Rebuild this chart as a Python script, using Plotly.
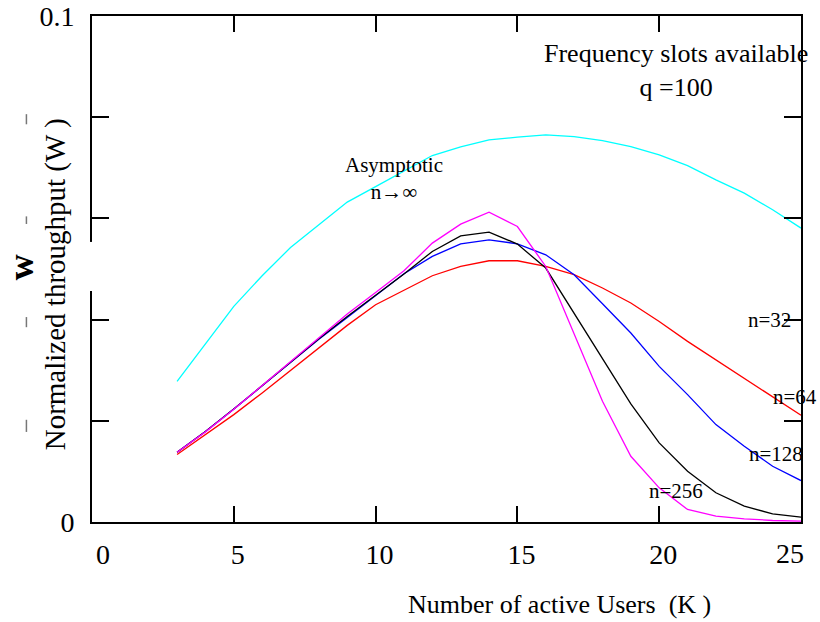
import plotly.graph_objects as go

K = list(range(3, 26))

w_asymptotic = [0.02780, 0.03524, 0.04261, 0.04867, 0.05425, 0.05874, 0.06322, 0.06628,
                0.06934, 0.07242, 0.07414, 0.07552, 0.07605, 0.07651, 0.07617, 0.07538,
                0.07420, 0.07256, 0.07044, 0.06762, 0.06500, 0.06170, 0.05808]
w_n32 = [0.01333, 0.01728, 0.02122, 0.02551, 0.02991, 0.03445, 0.03886, 0.04294,
         0.04576, 0.04867, 0.05050, 0.05163, 0.05163, 0.05050, 0.04887, 0.04624,
         0.04328, 0.03964, 0.03570, 0.03208, 0.02847, 0.02484, 0.02109]
w_n64 = [0.01378, 0.01787, 0.02231, 0.02695, 0.03159, 0.03613, 0.04043, 0.04466,
         0.04906, 0.05248, 0.05498, 0.05577, 0.05498, 0.05281, 0.04887, 0.04314,
         0.03735, 0.03076, 0.02517, 0.01925, 0.01497, 0.01102, 0.00819]
w_n128 = [0.01378, 0.01787, 0.02231, 0.02695, 0.03159, 0.03623, 0.04063, 0.04478,
          0.04900, 0.05347, 0.05656, 0.05730, 0.05493, 0.05019, 0.04130, 0.03242,
          0.02334, 0.01564, 0.01003, 0.00577, 0.00312, 0.00162, 0.00095]
w_n256 = [0.01378, 0.01781, 0.02227, 0.02701, 0.03169, 0.03643, 0.04111, 0.04537,
          0.04965, 0.05512, 0.05887, 0.06124, 0.05840, 0.05050, 0.03702, 0.02385,
          0.01299, 0.00675, 0.00247, 0.00115, 0.00063, 0.00030, 0.00016]

x_ticks = [0, 5, 10, 15, 20, 25]
x_ticktext = ["\u20070", "5", "10", "15", "20", ""]
x_last_label = "25"
y_ticks = [0, 0.02, 0.04, 0.06, 0.08, 0.1]
y_ticktext = ["0", "", "", "", "", "0.1"]

FONT = "Liberation Serif, Times New Roman, serif"

fig = go.Figure()
series = [
    ("Asymptotic", w_asymptotic, "#00FFFF"),
    ("n=32", w_n32, "#FF0000"),
    ("n=64", w_n64, "#0000FF"),
    ("n=128", w_n128, "#000000"),
    ("n=256", w_n256, "#FF00FF"),
]
for name, ys, col in series:
    fig.add_trace(go.Scatter(x=K, y=ys, mode="lines", name=name,
                             line=dict(color=col, width=1.3)))

annotations = [
    dict(text="Frequency slots available<br>q =100", x=0.823, y=0.893, size=26),
    dict(text="Asymptotic<br>n\u2192\u221e", x=0.426, y=0.678, size=21),
    dict(text="n=32", x=0.956, y=0.40, size=21),
    dict(text="n=64", x=0.991, y=0.248, size=21),
    dict(text="n=128", x=0.965, y=0.134, size=21),
    dict(text="n=256", x=0.823, y=0.061, size=21),
]
for a in annotations:
    fig.add_annotation(text=a["text"], x=a["x"], y=a["y"], xref="paper", yref="paper",
                       showarrow=False, align="center", xanchor="center", yanchor="middle",
                       font=dict(family=FONT, size=a["size"], color="black"))

# last x tick label, right-aligned to the axis end as in the original
fig.add_annotation(text=x_last_label, x=x_ticks[-1], xref="x", y=-0.062, yref="paper",
                   showarrow=False, xanchor="right", yanchor="middle", xshift=5,
                   font=dict(family=FONT, size=28, color="black"))

# axis titles
fig.add_annotation(text="Number of active Users \u00a0(K )", x=0.66, y=-0.163,
                   xref="paper", yref="paper", showarrow=False,
                   xanchor="center", yanchor="middle",
                   font=dict(family=FONT, size=26, color="black"))
fig.add_annotation(text="Normalized throughput (W )", x=-0.052, y=0.47, textangle=-90,
                   xref="paper", yref="paper", showarrow=False,
                   xanchor="center", yanchor="middle",
                   font=dict(family=FONT, size=29, color="black"))
fig.add_annotation(text="<b>w</b>", x=-0.099, y=0.503, textangle=-90,
                   xref="paper", yref="paper", showarrow=False,
                   xanchor="center", yanchor="middle",
                   font=dict(family=FONT, size=36, color="black"))

shapes = []
# gap in the left axis line
shapes.append(dict(type="rect", xref="paper", yref="paper", x0=-0.006, x1=0.004,
                   y0=0.4565, y1=0.5535, fillcolor="white", line=dict(width=0), layer="above"))
# stray marks on the left margin
for y0, y1 in [(0.786, 0.806), (0.589, 0.604), (0.385, 0.405), (0.178, 0.202)]:
    shapes.append(dict(type="line", xref="paper", yref="paper", x0=-0.0925, x1=-0.0925,
                       y0=y0, y1=y1, line=dict(color="#777777", width=1.5)))

fig.update_layout(
    width=820, height=622,
    margin=dict(l=92, r=19, t=16, b=100),
    paper_bgcolor="white", plot_bgcolor="white",
    showlegend=False,
    font=dict(family=FONT, color="black"),
    shapes=shapes,
)
fig.update_xaxes(range=[0, 25], tickvals=x_ticks, ticktext=x_ticktext, ticks="inside",
                 ticklen=16, tickwidth=2, automargin=False, ticklabeloverflow="allow",
                 tickcolor="black", showline=True, linewidth=2, linecolor="black",
                 mirror="ticks", showgrid=False, zeroline=False,
                 tickfont=dict(family=FONT, size=28, color="black"),
                 ticklabelstandoff=6, ticklabelshift=4)
fig.update_yaxes(range=[0, 0.1], tickvals=y_ticks, ticktext=y_ticktext, ticks="inside",
                 ticklen=17, tickwidth=2, tickcolor="black", showline=True, linewidth=2,
                 linecolor="black", mirror="ticks", showgrid=False, zeroline=False,
                 automargin=False, ticklabeloverflow="allow",
                 tickfont=dict(family=FONT, size=28, color="black"),
                 ticklabelstandoff=10)

fig.write_html(
    "out.html",
    config={"displayModeBar": False},
    post_script=("document.documentElement.style.margin='0';"
                 "document.body.style.margin='0';"
                 "document.documentElement.style.overflow='hidden';"
                 "document.body.style.overflow='hidden';"),
)
